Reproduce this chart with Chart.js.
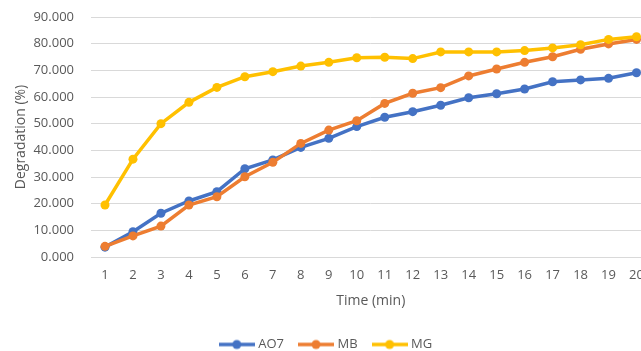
<!DOCTYPE html>
<html>
<head>
<meta charset="utf-8">
<script src="https://cdn.jsdelivr.net/npm/chart.js@4/dist/chart.umd.min.js"></script>
<style>
  html, body { margin: 0; padding: 0; background: #fff; overflow: hidden; }
  #wrap { width: 655px; height: 351px; }
</style>
</head>
<body>
<div id="wrap"><canvas id="graph-area"></canvas></div>
<script>
// time steps (min)
var minutes = ["1","2","3","4","5","6","7","8","9","10","11","12","13","14","15","16","17","18","19","20"];
// degradation (%) per dye
var ao7 = [3.7, 9.5, 16.4, 21.0, 24.5, 33.1, 36.4, 41.1, 44.5, 48.9, 52.4, 54.5, 56.9, 59.7, 61.2, 63.0, 65.7, 66.4, 67.0, 69.1];
var mb  = [4.0, 7.9, 11.6, 19.5, 22.6, 30.1, 35.5, 42.6, 47.6, 51.1, 57.6, 61.4, 63.5, 67.9, 70.5, 73.0, 75.1, 77.9, 79.9, 81.6];
var mg  = [19.5, 36.7, 50.0, 58.0, 63.6, 67.6, 69.5, 71.6, 73.0, 74.7, 74.9, 74.4, 76.9, 76.9, 76.9, 77.4, 78.4, 79.6, 81.6, 82.6];
var yTicks = [0, 10, 20, 30, 40, 50, 60, 70, 80, 90];

var textColor = "#595959";
var gridColor = "#d9d9d9";
var fontFamily = "'Open Sans', sans-serif";

// little line-with-dot marker for the legend (a bit wider than its slot so the text sits close)
function legendMarker(color) {
  var c = document.createElement("canvas");
  c.width = 36; c.height = 12;
  var g = c.getContext("2d");
  g.strokeStyle = color;
  g.lineWidth = 3.5;
  g.beginPath(); g.moveTo(0, 6); g.lineTo(36, 6); g.stroke();
  g.fillStyle = color;
  g.beginPath(); g.arc(18, 6, 4.5, 0, Math.PI * 2); g.fill();
  return c;
}

function series(label, data, color, order) {
  return {
    label: label,
    data: data,
    order: order,
    borderColor: color,
    backgroundColor: color,
    borderWidth: 3.5,
    pointRadius: 4.5,
    pointHoverRadius: 4.5,
    pointBackgroundColor: color,
    pointBorderWidth: 0,
    tension: 0,
    pointStyle: "circle",
    marker: legendMarker(color)
  };
}

var canvas = document.getElementById("graph-area");
var chart = new Chart(canvas, {
  type: "line",
  data: {
    labels: minutes,
    datasets: [
      series("AO7", ao7, "#4472C4", 3),
      series("MB", mb, "#ED7D31", 2),
      series("MG", mg, "#FFC000", 1)
    ]
  },
  options: {
    responsive: true,
    maintainAspectRatio: false,
    animation: false,
    layout: { padding: { top: 17, right: 1, bottom: -10, left: 0 } },
    plugins: {
      tooltip: { enabled: false },
      legend: {
        position: "bottom",
        labels: {
          usePointStyle: true,
          pointStyleWidth: 30,
          padding: 17,
          color: textColor,
          font: { family: fontFamily, size: 13 },
          generateLabels: function (ch) {
            return ch.data.datasets.map(function (ds, i) {
              return {
                text: ds.label,
                pointStyle: ds.marker,
                fillStyle: ds.borderColor,
                strokeStyle: ds.borderColor,
                lineWidth: 0,
                hidden: false,
                datasetIndex: i,
                fontColor: textColor
              };
            });
          }
        }
      }
    },
    scales: {
      x: {
        offset: true,
        grid: { display: false, drawTicks: false },
        border: { color: gridColor, width: 1 },
        ticks: { color: textColor, padding: 10, maxRotation: 0, autoSkip: false, font: { family: fontFamily, size: 13 } },
        title: { display: true, text: "Time (min)", color: textColor, padding: { top: 6, bottom: 12 }, font: { family: fontFamily, size: 14 } },
        afterFit: function (s) { s.height = 64; }
      },
      y: {
        min: 0,
        max: 90,
        afterBuildTicks: function (s) { s.ticks = yTicks.map(function (v) { return { value: v }; }); },
        grid: { color: gridColor, lineWidth: 1, drawTicks: false },
        border: { display: false },
        ticks: {
          color: textColor,
          padding: 17,
          font: { family: fontFamily, size: 13 },
          callback: function (v) { return Number(v).toFixed(3); }
        },
        title: { display: true, text: "Degradation (%)", color: textColor, padding: { top: 13, bottom: 0 }, font: { family: fontFamily, size: 14 } },
        afterFit: function (s) {
          s.width = 91;
          // keep the tick padding from pushing the plot down
          s.paddingTop = 0;
          s.paddingBottom = 0;
        }
      }
    }
  }
});
</script>
</body>
</html>
